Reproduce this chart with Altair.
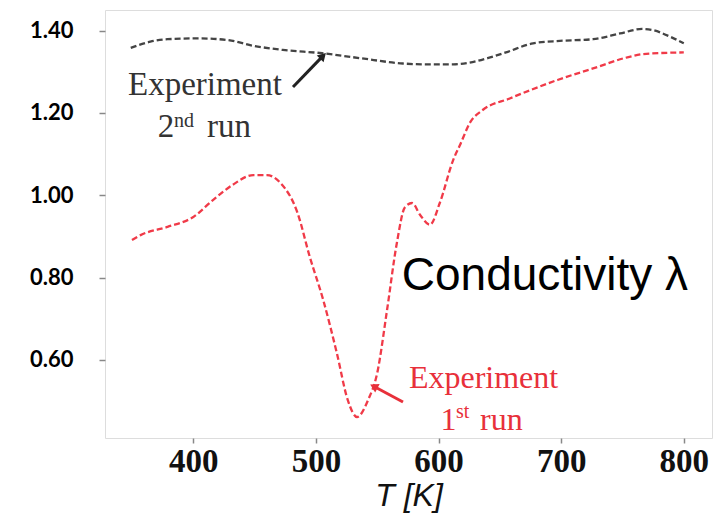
import altair as alt
import pandas as pd

# ---- data ----
T_run2 = [349, 365, 379, 405, 428, 449, 473, 505, 536, 571, 591, 612, 625, 640, 655, 677, 699, 726, 748, 766, 775, 789, 800]
L_run2 = [1.358, 1.373, 1.379, 1.381, 1.377, 1.363, 1.353, 1.345, 1.333, 1.320, 1.318, 1.318, 1.322, 1.333, 1.347, 1.369, 1.375, 1.379, 1.393, 1.404, 1.401, 1.385, 1.369]

T_run1 = [350, 357, 379, 400, 416, 432, 449, 460, 471, 485, 495, 506, 517, 526, 533.5, 542.5, 550, 558, 566, 572.6, 578.4, 585, 593, 601, 612, 617.5, 626, 636, 658, 697, 726, 754, 767, 800]
L_run1 = [0.891, 0.903, 0.923, 0.947, 0.988, 1.025, 1.049, 1.049, 1.030, 0.957, 0.850, 0.745, 0.617, 0.502, 0.461, 0.502, 0.568, 0.721, 0.884, 0.971, 0.981, 0.952, 0.928, 0.981, 1.086, 1.122, 1.178, 1.207, 1.235, 1.280, 1.308, 1.335, 1.343, 1.347]

x_ticks = [400, 500, 600, 700, 800]
y_ticks = [0.60, 0.80, 1.00, 1.20, 1.40]

# annotation texts (data coordinates)
black_text = ["Experiment", "2", "nd", "run"]
black_T = [409.5, 371.0, 384.3, 411.2]
black_L = [1.2435, 1.1414, 1.1657, 1.1414]
black_align = ["center", "left", "left", "left"]
black_size = [33, 33, 20, 33]

red_text = ["Experiment", "1", "st", "run"]
red_T = [636.7, 601.5, 614.2, 633.8]
red_L = [0.5315, 0.4294, 0.4586, 0.4294]
red_align = ["center", "left", "left", "left"]
red_size = [32, 32, 20, 32]

label_text = ["Conductivity λ"]
label_T = [570.0]
label_L = [0.7696]

arrow_T = [481.3, 571.0]
arrow_L = [1.263, 0.4975]
arrow_T2 = [505.0, 548.2]
arrow_L2 = [1.336, 0.534]
arrow_angle = [44, 298]
arrow_color = ["#222222", "#e8303a"]

# ---- chart ----
xs = alt.Scale(domain=[328, 823], nice=False, zero=False)
ys = alt.Scale(domain=[0.41, 1.45], nice=False, zero=False)

df1 = pd.DataFrame({"T": T_run1, "L": L_run1})
df2 = pd.DataFrame({"T": T_run2, "L": L_run2})

xenc = alt.X("T:Q", scale=xs, axis=alt.Axis(
    values=x_ticks, title="T [K]", grid=False, domain=False,
    labelFont="Liberation Serif", labelFontWeight="bold", labelFontSize=33,
    labelColor="#111111", labelPadding=2, tickSize=5, tickColor="#888888", tickWidth=1.5,
    titleFont="Liberation Sans", titleFontStyle="italic", titleFontWeight="normal",
    titleFontSize=32, titleColor="#111111", titlePadding=2))
yenc = alt.Y("L:Q", scale=ys, axis=alt.Axis(
    values=y_ticks, format=".2f", title=None, grid=False, domain=False,
    labelFont="Lato", labelFontWeight="bold", labelFontSize=22,
    labelColor="#000000", labelPadding=26, tickSize=6, tickColor="#888888", tickWidth=1.5))

red_line = alt.Chart(df1).mark_line(
    color="#f03a48", strokeWidth=2.3, strokeDash=[6, 3], interpolate="monotone"
).encode(x=xenc, y=yenc)

black_line = alt.Chart(df2).mark_line(
    color="#444444", strokeWidth=2.3, strokeDash=[6, 3], interpolate="monotone"
).encode(x=alt.X("T:Q", scale=xs), y=alt.Y("L:Q", scale=ys))


def text_layer(texts, Ts, Ls, aligns, sizes, color):
    layers = []
    for t, tx, ly, al, sz in zip(texts, Ts, Ls, aligns, sizes):
        d = pd.DataFrame({"T": [tx], "L": [ly], "txt": [t]})
        layers.append(alt.Chart(d).mark_text(
            font="Liberation Serif", fontSize=sz, color=color, align=al,
            baseline="alphabetic"
        ).encode(x=alt.X("T:Q", scale=xs), y=alt.Y("L:Q", scale=ys), text="txt:N"))
    return layers


black_layers = text_layer(black_text, black_T, black_L, black_align, black_size, "#333333")
red_layers = text_layer(red_text, red_T, red_L, red_align, red_size, "#e8303a")

cond = alt.Chart(pd.DataFrame({"T": label_T, "L": label_L, "txt": label_text})).mark_text(
    font="Liberation Sans", fontSize=46, color="#000000", align="left", baseline="alphabetic"
).encode(x=alt.X("T:Q", scale=xs), y=alt.Y("L:Q", scale=ys), text="txt:N")

adf = pd.DataFrame({"T": arrow_T, "L": arrow_L, "T2": arrow_T2, "L2": arrow_L2,
                    "ang": arrow_angle, "col": arrow_color})
shafts = alt.Chart(adf).mark_rule(strokeWidth=3).encode(
    x=alt.X("T:Q", scale=xs), y=alt.Y("L:Q", scale=ys), x2="T2:Q", y2="L2:Q",
    color=alt.Color("col:N", scale=None))
heads = alt.Chart(adf).mark_point(shape="triangle", filled=True, size=90, opacity=1).encode(
    x=alt.X("T2:Q", scale=xs), y=alt.Y("L2:Q", scale=ys),
    angle=alt.Angle("ang:Q", scale=None),
    color=alt.Color("col:N", scale=None))

chart = alt.layer(red_line, black_line, *black_layers, *red_layers, cond, shafts, heads).properties(
    width=607, height=428,
    autosize=alt.AutoSizeParams(type="none"),
    padding={"left": 97, "top": 2, "right": 4, "bottom": 76},
).configure_view(stroke="#888888", strokeWidth=2).configure(background="white")

chart.save("out.html", embed_options={"renderer": "svg", "actions": False})
